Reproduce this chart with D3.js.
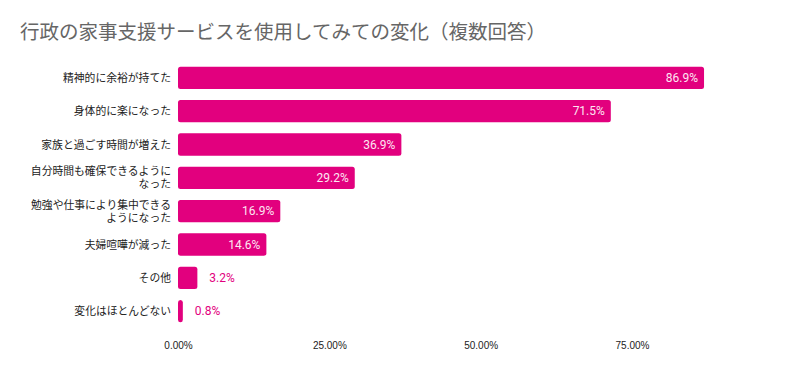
<!DOCTYPE html>
<html>
<head>
<meta charset="utf-8">
<script src="https://cdn.jsdelivr.net/npm/d3@7"></script>
<style>
  body { margin: 0; background: #fff; }
  text { font-family: "Noto Sans CJK JP", "Noto Sans", sans-serif; }
</style>
</head>
<body>
<div id="chart"></div>
<script>
// data
var categories = [
  ["精神的に余裕が持てた"],
  ["身体的に楽になった"],
  ["家族と過ごす時間が増えた"],
  ["自分時間も確保できるように", "なった"],
  ["勉強や仕事により集中できる", "ようになった"],
  ["夫婦喧嘩が減った"],
  ["その他"],
  ["変化はほとんどない"]
];
var values = [86.9, 71.5, 36.9, 29.2, 16.9, 14.6, 3.2, 0.8];
var ticks = [0, 25, 50, 75];
var title = "行政の家事支援サービスを使用してみての変化（複数回答）";

var width = 802, height = 371;
var margin = {top: 61, right: 20, bottom: 43, left: 178};
var pink = "#e2007e";

var svg = d3.select("#chart").append("svg")
  .attr("width", width)
  .attr("height", height);

svg.append("text")
  .attr("x", 20)
  .attr("y", 39)
  .attr("font-size", 19.5)
  .attr("fill", "#666")
  .text(title);

var x = d3.scaleLinear()
  .domain([0, 75])
  .range([margin.left, margin.left + 454]);

var y = d3.scaleBand()
  .domain(d3.range(values.length))
  .range([margin.top, height - margin.bottom])
  .paddingInner(0.33)
  .paddingOuter(0.17);

var g = svg.append("g");

// bars
g.selectAll("rect")
  .data(values)
  .enter()
  .append("rect")
    .attr("x", x(0))
    .attr("y", function(d, i) { return y(i); })
    .attr("width", function(d) { return Math.max(x(d) - x(0), 2); })
    .attr("height", y.bandwidth())
    .attr("rx", 2.5)
    .attr("fill", pink);

// value labels
g.selectAll(".val")
  .data(values)
  .enter()
  .append("text")
    .attr("class", "val")
    .attr("font-size", 12)
    .style("font-family", "Roboto, sans-serif")
    .attr("y", function(d, i) { return y(i) + y.bandwidth() / 2 + 4; })
    .attr("x", function(d) { return d > 10 ? x(d) - 6 : x(d) + 12; })
    .attr("text-anchor", function(d) { return d > 10 ? "end" : "start"; })
    .attr("fill", function(d) { return d > 10 ? "#fde6f2" : pink; })
    .text(function(d) { return d.toFixed(1) + "%"; });

// category labels, one text per line
// (Liberation Sans first keeps the line box tight, the kana fall back to Noto CJK)
categories.forEach(function(lines, i) {
  var c = y(i) + y.bandwidth() / 2 + 4;
  g.selectAll(".cat" + i)
    .data(lines)
    .enter()
    .append("text")
      .attr("class", "cat cat" + i)
      .attr("font-size", 10.8)
      .style("font-family", "'Liberation Sans', 'Noto Sans CJK JP', sans-serif")
      .attr("fill", "#222")
      .attr("text-anchor", "end")
      .attr("x", 171)
      .attr("y", function(d, j) {
        return lines.length > 1 ? c - 6.5 + j * 13 : c;
      })
      .text(function(d) { return d; });
});

// x axis
var xAxis = d3.axisBottom(x)
  .tickValues(ticks)
  .tickSize(0)
  .tickFormat(function(d) { return d.toFixed(2) + "%"; });

svg.append("g")
  .attr("transform", "translate(0," + 339 + ")")
  .call(xAxis)
  .call(function(a) { a.select(".domain").remove(); })
  .selectAll("text")
    .attr("font-size", 10)
    .attr("fill", "#222")
    .style("font-family", "'Liberation Sans', Arial, sans-serif");
</script>
</body>
</html>
